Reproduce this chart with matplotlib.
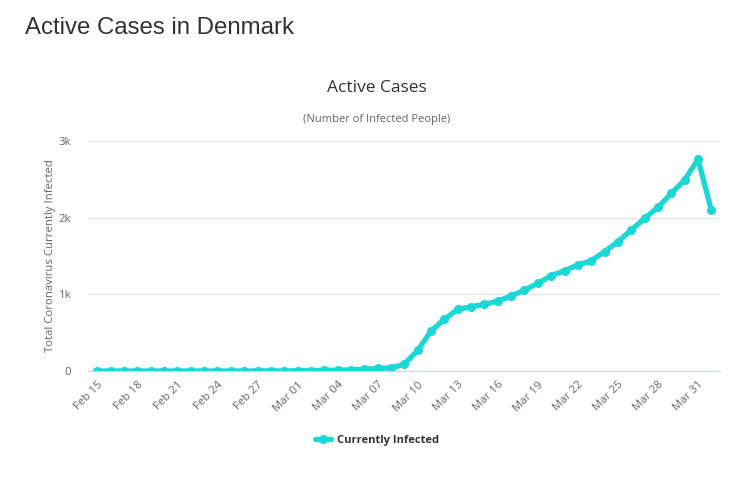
import numpy as np
import matplotlib
matplotlib.use("Agg")
import matplotlib.pyplot as plt
from matplotlib.ticker import FuncFormatter

# Daten
dates = (["Feb %02d" % d for d in range(15, 30)]
         + ["Mar %02d" % d for d in range(1, 32)]
         + ["Apr 01"])
active = [0, 0, 0, 0, 0, 0, 0, 0, 0, 0, 0, 0, 1, 1, 1,
          4, 4, 10, 10, 15, 23, 34, 40, 87, 270, 521, 674, 804, 838, 869,
          912, 978, 1056, 1143, 1243, 1308, 1382, 1438, 1556, 1686, 1838,
          1991, 2134, 2317, 2490, 2764, 2099]
tick_labels = dates[::3][:16]
series_name = "Currently Infected"

color = "#1ad8d6"
fig = plt.figure(figsize=(7.36, 4.96), dpi=100)
fig.text(25 / 736, 1 - 28 / 496, "Active Cases in Denmark", fontsize=17.3,
         color="#333333", family="Liberation Sans", va="center", ha="left")
fig.text(377 / 736, 1 - 88 / 496, "Active Cases", fontsize=12.5,
         color="#333333", family="Open Sans", va="center", ha="center")
fig.text(377 / 736, 1 - 119 / 496, "(Number of Infected People)", fontsize=8,
         color="#666666", family="Open Sans", va="center", ha="center")

ax = fig.add_axes([88 / 736, 1 - 371 / 496, 632 / 736, 230 / 496])
x = np.arange(len(dates))
line, = ax.plot(x, active, color=color, lw=3.8, marker="o", ms=5.5,
                label=series_name, solid_capstyle="round")

ax.set_xlim(-0.7, len(dates) - 0.35)
ax.set_ylim(0, 3000)
ax.set_yticks([0, 1000, 2000, 3000])
ax.yaxis.set_major_formatter(FuncFormatter(lambda v, p: "0" if v == 0 else "%dk" % (v / 1000)))
ax.set_xticks(x[::3][:16])
ax.set_xticklabels(tick_labels, rotation=45, ha="right", rotation_mode="anchor")

for lab in ax.get_xticklabels() + ax.get_yticklabels():
    lab.set_family("Open Sans")
    lab.set_fontsize(8.2)
    lab.set_color("#666666")

ax.grid(axis="y", color="#e6e6e6", lw=1)
ax.set_axisbelow(True)
for s in ["top", "right", "left"]:
    ax.spines[s].set_visible(False)
ax.spines["bottom"].set_color("#ccd6eb")
ax.tick_params(axis="y", length=0, pad=12)
ax.tick_params(axis="x", length=0, pad=6)
ax.set_ylabel("Total Coronavirus Currently Infected", family="Open Sans",
              fontsize=8.2, color="#666666", labelpad=2)

leg = fig.legend(handles=[line], loc="center", bbox_to_anchor=(377 / 736, 1 - 440 / 496),
                 frameon=False, handlelength=1.4, handletextpad=0.5,
                 prop={"family": "Open Sans", "weight": "bold", "size": 8})
for t in leg.get_texts():
    t.set_color("#333333")

fig.savefig("out.png", dpi=100)
